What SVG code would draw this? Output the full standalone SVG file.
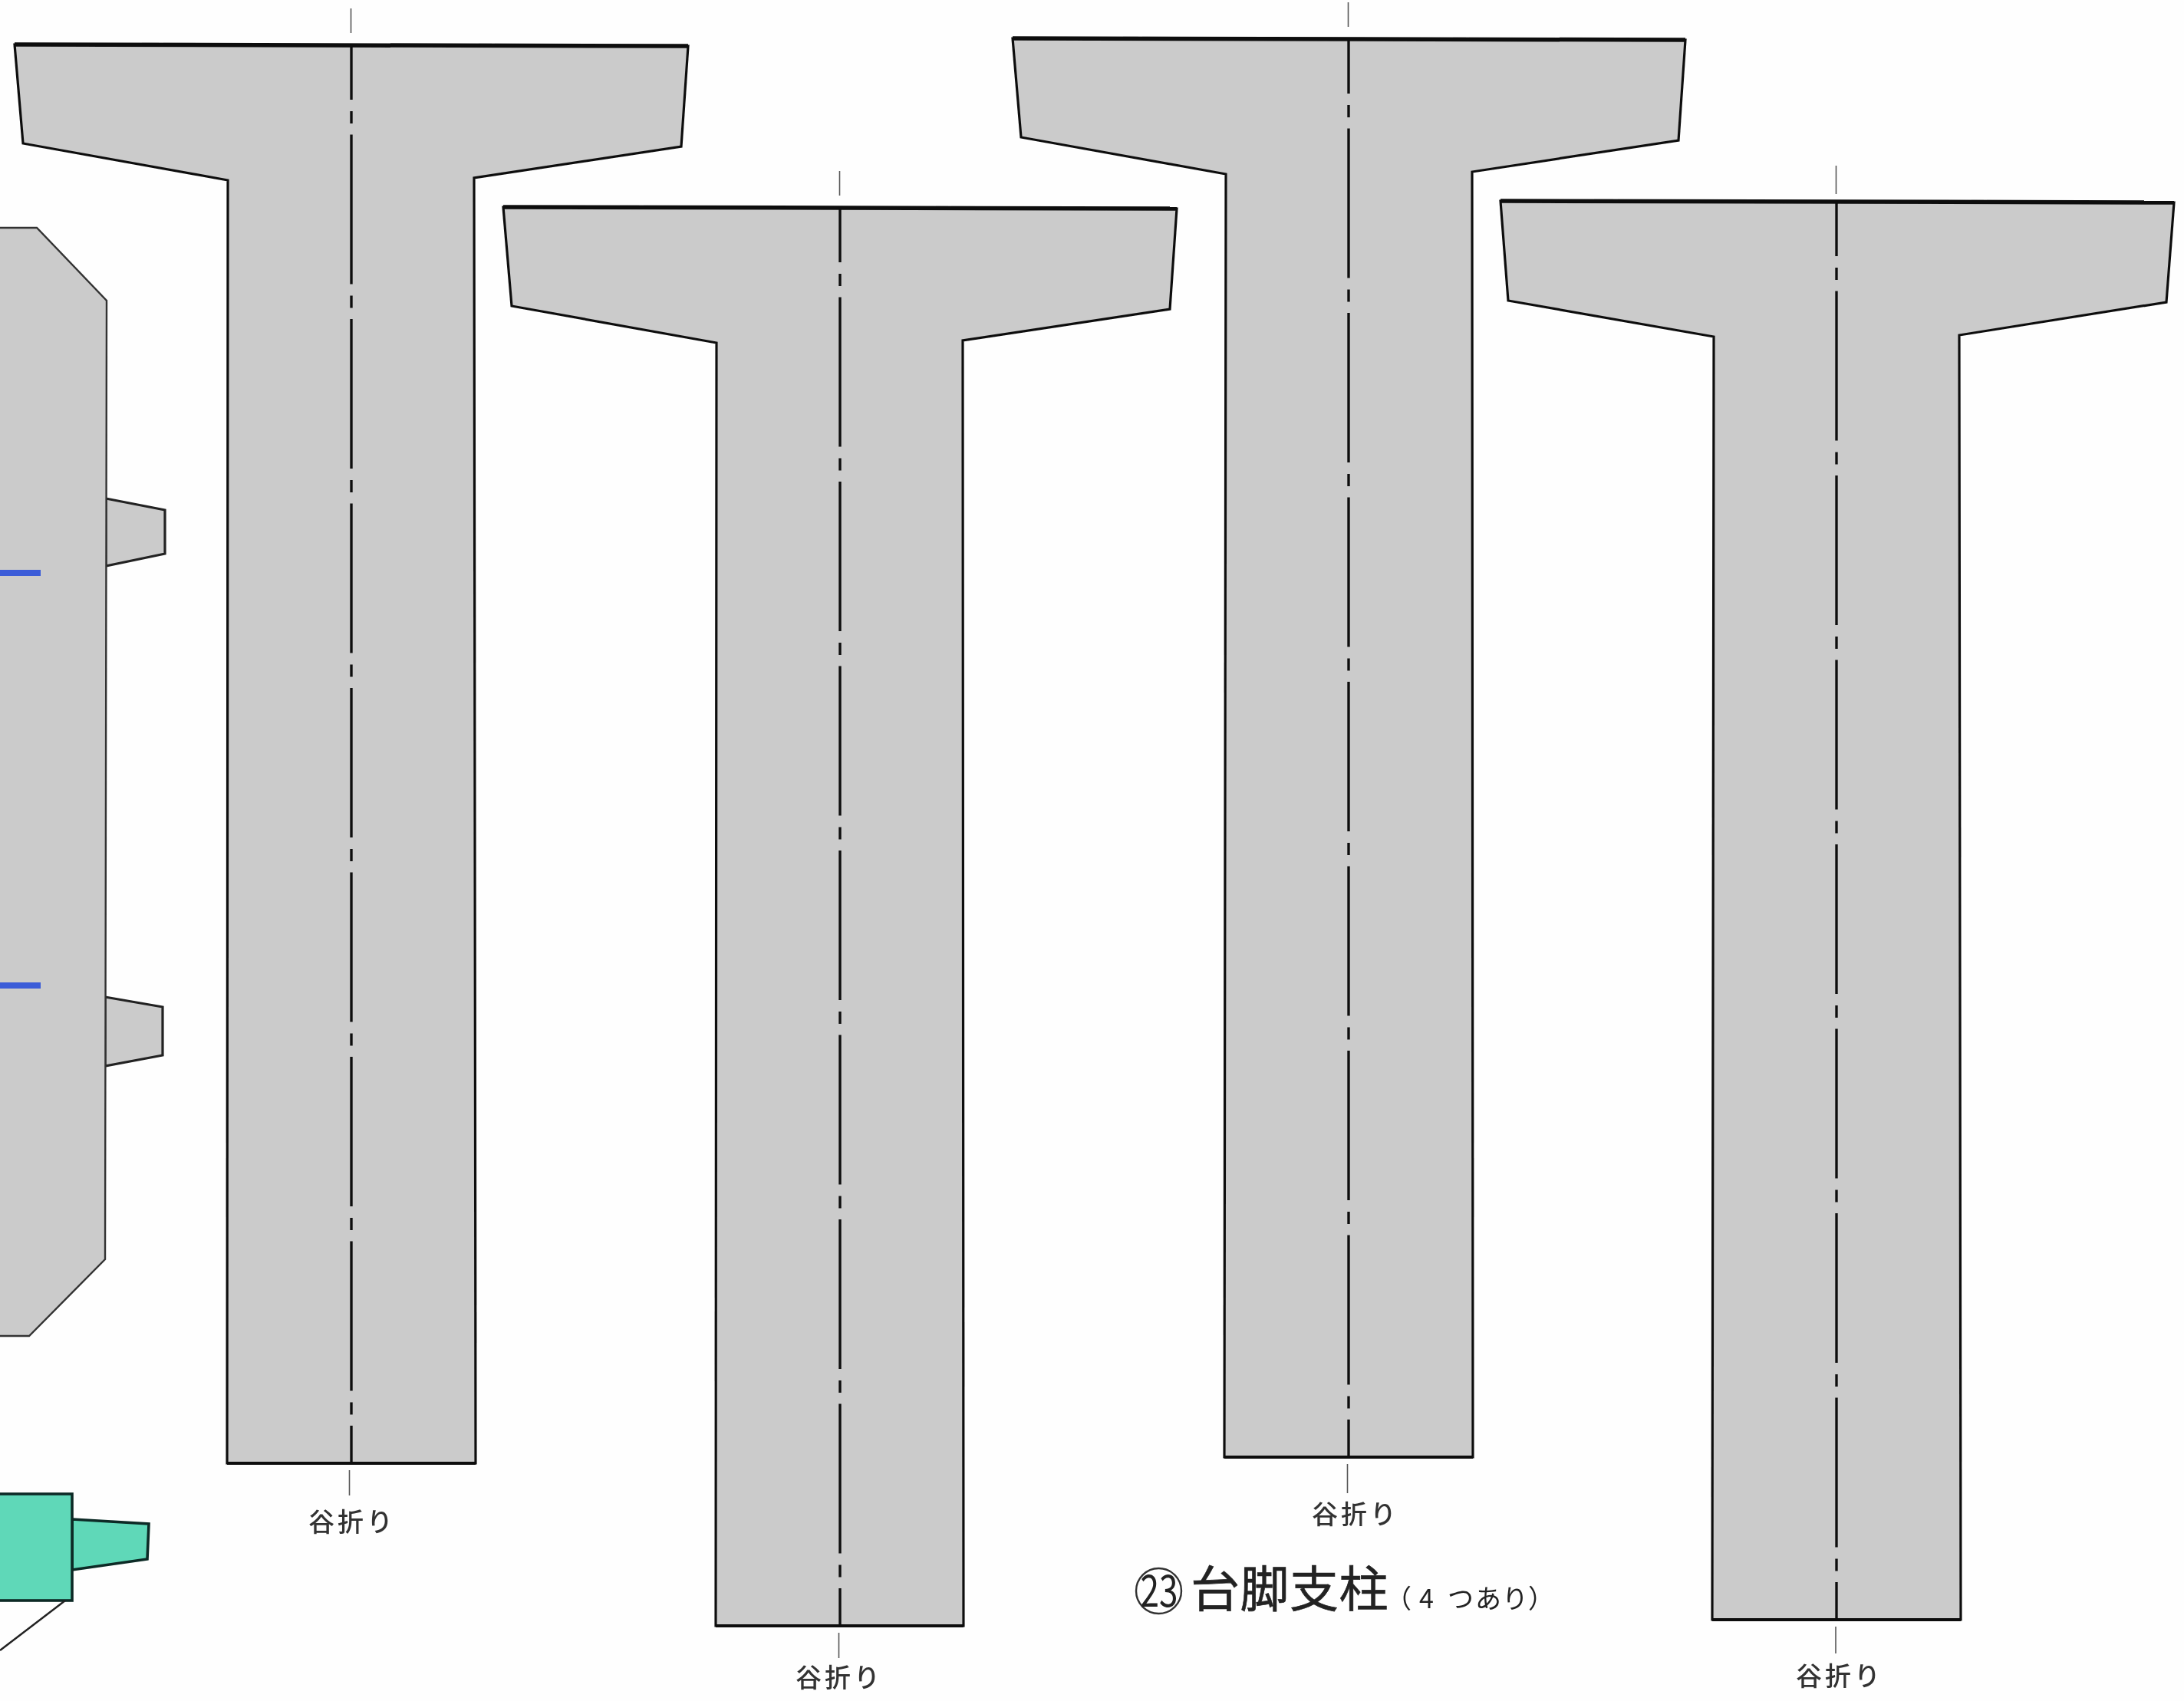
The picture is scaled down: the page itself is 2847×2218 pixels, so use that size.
<svg xmlns="http://www.w3.org/2000/svg" width="2847" height="2218" viewBox="0 0 2847 2218">
<style>
.leg{fill:#cbcbcb;stroke:#111;stroke-width:3.2;stroke-linejoin:miter}
.top{stroke:#111;stroke-width:5.5;fill:none}
.base{stroke:#111;stroke-width:4.2;fill:none}
.fold{stroke:#111;stroke-width:3.4;fill:none;stroke-dasharray:195 15 16 14.5;stroke-dashoffset:123}
.stub{stroke:#555;stroke-width:1.6;fill:none}
.lab{font-family:"Noto Sans CJK JP","Liberation Sans",sans-serif;font-size:34px;font-weight:500;fill:#333;letter-spacing:4px;text-anchor:middle}
.plate{fill:#cbcbcb;stroke:#333;stroke-width:2.4}
.tab{fill:#cbcbcb;stroke:#222;stroke-width:3.2}
.blue{stroke:#3a5bd8;stroke-width:8;fill:none}
.green{fill:#5fd8b8;stroke:#0a2a25;stroke-width:3.6}
.ttl{font-family:"Noto Sans CJK JP","Liberation Sans",sans-serif;fill:#222;font-weight:400}
</style>
<defs><filter id="soft" x="0" y="0" width="100%" height="100%" filterUnits="userSpaceOnUse" primitiveUnits="userSpaceOnUse"><feGaussianBlur stdDeviation="0.7"/></filter></defs>
<rect id="paper" width="2847" height="2218" fill="#fefefe"/>
<g id="drawing" filter="url(#soft)">
<g id="left-part">
<polygon class="tab" points="138,650 215,665 215,722 138,738"/>
<polygon class="tab" points="137,1300 212,1313 212,1376 137,1390"/>
<polygon class="plate" points="-10,297 48,297 139,392 137,1642 38,1742 -10,1742"/>
<line class="blue" x1="0" y1="747" x2="53" y2="747"/>
<line class="blue" x1="0" y1="1285" x2="53" y2="1285"/>
</g>
<g id="green-part">
<polygon class="green" points="94,1981 194,1987 192,2033 94,2047"/>
<rect class="green" x="-10" y="1948" width="104" height="139"/>
<line x1="85" y1="2087" x2="0" y2="2152" stroke="#222" stroke-width="2.5"/>
</g>
<g id="leg-1">
<line class="stub" x1="457.500" y1="11" x2="457.500" y2="43"/>
<polygon class="leg" points="19,58 897,60 888,191 618,232 620,1908 296,1908 297,235 30,187"/>
<line class="top" x1="19" y1="58" x2="897" y2="60"/>
<line class="base" x1="296" y1="1908" x2="620" y2="1908"/>
<line class="fold" x1="458" y1="58" x2="458" y2="1908"/>
<line class="stub" x1="455.500" y1="1917" x2="455.500" y2="1950"/>
<text class="lab" x="459" y="1997">谷折り</text>
</g>
<g id="leg-2">
<line class="stub" x1="1094.500" y1="223" x2="1094.500" y2="255"/>
<polygon class="leg" points="656,270 1534,272 1525,403 1255,444 1256,2120 933,2120 934,447 667,399"/>
<line class="top" x1="656" y1="270" x2="1534" y2="272"/>
<line class="base" x1="933" y1="2120" x2="1256" y2="2120"/>
<line class="fold" x1="1095" y1="270" x2="1095" y2="2120"/>
<line class="stub" x1="1093.500" y1="2129" x2="1093.500" y2="2162"/>
<text class="lab" x="1094" y="2200">谷折り</text>
</g>
<g id="leg-3">
<line class="stub" x1="1757.500" y1="3" x2="1757.500" y2="35"/>
<polygon class="leg" points="1320,50 2197,52 2188,183 1919,224 1920,1900 1596,1900 1598,227 1331,179"/>
<line class="top" x1="1320" y1="50" x2="2197" y2="52"/>
<line class="base" x1="1596" y1="1900" x2="1920" y2="1900"/>
<line class="fold" x1="1758" y1="50" x2="1758" y2="1900"/>
<line class="stub" x1="1756.500" y1="1909" x2="1756.500" y2="1947"/>
<text class="lab" x="1767" y="1987">谷折り</text>
</g>
<g id="leg-4">
<line class="stub" x1="2393.500" y1="216" x2="2393.500" y2="253"/>
<polygon class="leg" points="1956,262 2834,264 2824,394 2554,437 2556,2112 2232,2112 2234,439 1966,392"/>
<line class="top" x1="1956" y1="262" x2="2834" y2="264"/>
<line class="base" x1="2232" y1="2112" x2="2556" y2="2112"/>
<line class="fold" x1="2394" y1="262" x2="2394" y2="2112"/>
<line class="stub" x1="2393" y1="2121" x2="2393" y2="2156"/>
<text class="lab" x="2398" y="2198">谷折り</text>
</g>
<g id="title">
<circle cx="1510.500" cy="2074.500" r="29.500" fill="none" stroke="#333" stroke-width="2.400"/>
<text class="ttl" x="1511" y="2095" font-size="57" text-anchor="middle" textLength="49" lengthAdjust="spacingAndGlyphs">23</text>
<text class="ttl" x="1552" y="2095" font-size="64" letter-spacing="0.500" stroke="#222" stroke-width="0.600">台脚支柱</text>
<text class="ttl" font-size="34" x="1806 1850 1887 1923 1958 1992" y="2097">（4つあり）</text>
</g>
</g>
</svg>
